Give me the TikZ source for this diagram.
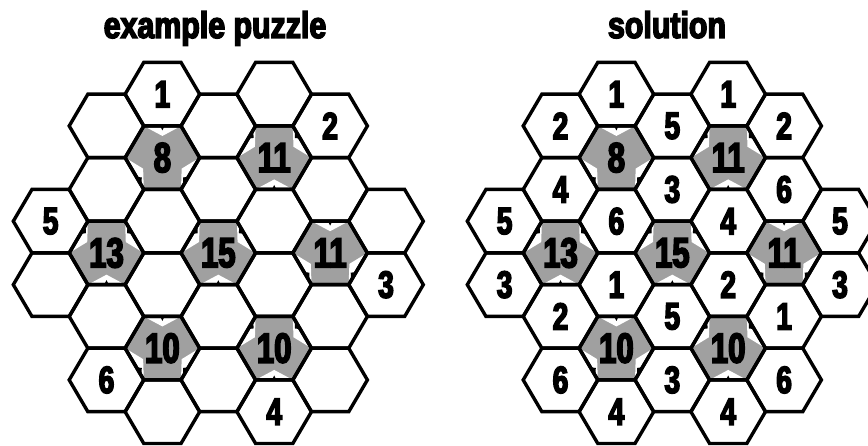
\documentclass[tikz,border=0pt]{standalone}
\usepackage{fontspec}
\usetikzlibrary{calc}
\newfontfamily\numf{Liberation Sans}[FakeStretch=0.74,FakeBold=4]
\newfontfamily\titf{Liberation Sans}[FakeStretch=0.82,FakeBold=4]
\definecolor{cellgray}{RGB}{160,160,160}
\newcommand\hexshape[2]{(#1+37.3,#2) -- (#1+18.65,#2-31.75) -- (#1-18.65,#2-31.75) -- (#1-37.3,#2) -- (#1-18.65,#2+31.75) -- (#1+18.65,#2+31.75) -- cycle}
\newcommand\notchwhite[2]{\fill[white] (#1) -- ($(#1)!0.1!(#2)!3pt!(C)$) -- ($(#1)!0.5!(#2)!10pt!(C)$) -- ($(#1)!0.9!(#2)!3pt!(C)$) -- (#2) -- cycle;}
\newcommand\hnotch[2]{\notchwhite{#1}{#2}\fill[black] ($(#1)!0.44!(#2)$) -- ($(#1)!0.56!(#2)$) -- ($(#1)!0.5!(#2)!4.5pt!(C)$) -- cycle;}
\newcommand\snotch[2]{\notchwhite{#1}{#2}\fill[black] ($(#1)!0.6!(#2)$) -- ($(#1)!0.88!(#2)$) -- ($(#1)!0.72!(#2)!4.5pt!(C)$) -- cycle;}
\newcommand\grayhex[3]{%
 \coordinate (C) at (#1,#2);
 \coordinate (V0) at (#1+37.3,#2);
 \coordinate (V60) at (#1+18.65,#2-31.75);
 \coordinate (V120) at (#1-18.65,#2-31.75);
 \coordinate (V180) at (#1-37.3,#2);
 \coordinate (V240) at (#1-18.65,#2+31.75);
 \coordinate (V300) at (#1+18.65,#2+31.75);
 \fill[cellgray] (V0)--(V60)--(V120)--(V180)--(V240)--(V300)--cycle;
 \ifnum#3=0
   \hnotch{V60}{V120}\snotch{V180}{V240}\snotch{V0}{V300}%
 \else
   \hnotch{V240}{V300}\snotch{V180}{V120}\snotch{V0}{V60}%
 \fi}
\begin{document}
\begin{tikzpicture}[x=1pt,y=-1pt,
  hexline/.style={line width=3.4pt,draw=black},
  numtxt/.style={font=\numf\bfseries\fontsize{38}{38}\selectfont, inner sep=0pt},
  bignum/.style={font=\numf\bfseries\fontsize{42}{42}\selectfont, inner sep=0pt},
  titletxt/.style={font=\titf\bfseries\fontsize{37}{37}\selectfont, inner sep=0pt, anchor=base}]
\fill[white] (0,0) rectangle (868,446);
\useasboundingbox (0,0) rectangle (868,446);
\clip (0,0) rectangle (868,446);
\node[titletxt] (t1) at (215,38) {example puzzle};
\node[titletxt] (t2) at (667,38) {solution};
\foreach \gx/\gn in {218.3/L, 672.3/S} {
  \foreach \c/\r/\t in {2/2/0, 4/2/1, 1/5/1, 3/5/1, 5/5/0, 2/8/0, 4/8/1} {
    \pgfmathsetmacro\xx{\gx+(\c-3)*55.9}
    \pgfmathsetmacro\yy{94.2+\r*31.75}
    \grayhex{\xx}{\yy}{\t}
  }
  \foreach \c/\r in {0/4,0/6,1/1,1/3,1/5,1/7,1/9,2/0,2/2,2/4,2/6,2/8,2/10,3/1,3/3,3/5,3/7,3/9,4/0,4/2,4/4,4/6,4/8,4/10,5/1,5/3,5/5,5/7,5/9,6/4,6/6} {
    \pgfmathsetmacro\xx{\gx+(\c-3)*55.9}
    \pgfmathsetmacro\yy{94.2+\r*31.75}
    \draw[hexline] \hexshape{\xx}{\yy};
  }
  \foreach \c/\r/\t in {2/2/8, 4/2/11, 1/5/13, 3/5/15, 5/5/11, 2/8/10, 4/8/10} {
    \pgfmathsetmacro\xx{\gx+(\c-3)*55.9}
    \pgfmathsetmacro\yy{94.2+\r*31.75}
    \node[bignum] (\gn-\c-\r) at (\xx,\yy) {\t};
  }
}
\foreach \c/\r/\t in {0/4/5, 2/0/1, 5/1/2, 6/6/3, 1/9/6, 4/10/4} {
  \pgfmathsetmacro\xx{218.3+(\c-3)*55.9}
  \pgfmathsetmacro\yy{94.2+\r*31.75}
  \node[numtxt] (L-\c-\r) at (\xx,\yy) {\t};
}
\foreach \c/\r/\t in {0/4/5, 0/6/3, 1/1/2, 1/3/4, 1/7/2, 1/9/6, 2/0/1, 2/4/6, 2/6/1, 2/10/4, 3/1/5, 3/3/3, 3/7/5, 3/9/3, 4/0/1, 4/4/4, 4/6/2, 4/10/4, 5/1/2, 5/3/6, 5/7/1, 5/9/6, 6/4/5, 6/6/3} {
  \pgfmathsetmacro\xx{672.3+(\c-3)*55.9}
  \pgfmathsetmacro\yy{94.2+\r*31.75}
  \node[numtxt] (S-\c-\r) at (\xx,\yy) {\t};
}
\end{tikzpicture}
\end{document}
